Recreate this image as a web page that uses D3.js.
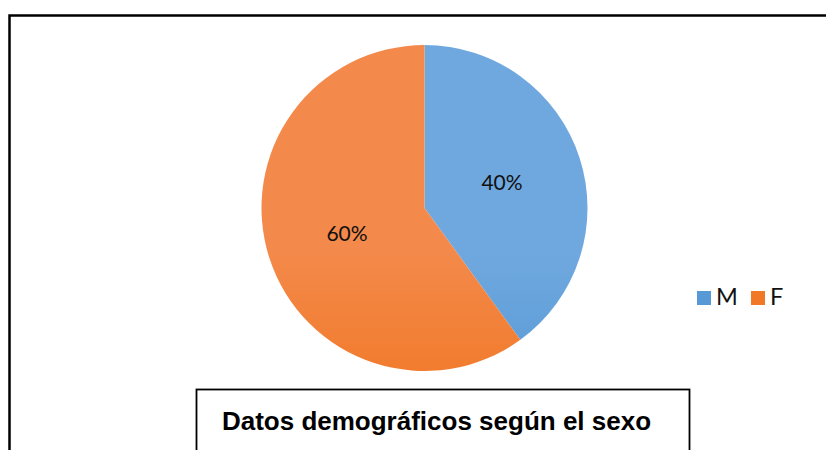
<!DOCTYPE html>
<html><head><meta charset="utf-8">
<script src="https://cdn.jsdelivr.net/npm/d3@7"></script>
<style>body{margin:0;background:#fff}svg{display:block}</style>
</head><body>
<svg id="c" width="826" height="450"></svg>
<script>
const categories = ["M", "F"];
const values = [40, 60];
const labels = ["40%", "60%"];
const title = "Datos demográficos según el sexo";

const svg = d3.select("#c");
const W = 826, H = 450;
const cx = 424.5, cy = 208, R = 163;

const defs = svg.append("defs");
const grads = [["gM", "#6fa8de", "#5698d6", "#3d84c6"], ["gF", "#f3894a", "#f17724", "#e1650f"]];
grads.forEach(([id, c1, c2, c3]) => {
  const g = defs.append("linearGradient").attr("id", id)
    .attr("gradientUnits", "userSpaceOnUse")
    .attr("x1", 0).attr("y1", cy - R).attr("x2", 0).attr("y2", cy + R);
  g.append("stop").attr("offset", "0%").attr("stop-color", c1);
  g.append("stop").attr("offset", "50%").attr("stop-color", c2);
  g.append("stop").attr("offset", "100%").attr("stop-color", c3);
});
const color = d3.scaleOrdinal().domain(categories).range(["url(#gM)", "url(#gF)"]);
const swatch = d3.scaleOrdinal().domain(categories).range(["#5799d6", "#f07827"]);

// outer border
svg.append("rect").attr("x", 9.5).attr("y", 15.5).attr("width", W).attr("height", H)
  .attr("fill", "none").attr("stroke", "#000").attr("stroke-width", 2.5);

const pie = d3.pie().sort(null).value(d => d.v);
const arcs = pie(categories.map((c, i) => ({c, v: values[i], l: labels[i]})));
const arc = d3.arc().innerRadius(0).outerRadius(R);
const labelArc = d3.arc().innerRadius(R / 2).outerRadius(R / 2);

const g = svg.append("g").attr("transform", `translate(${cx},${cy})`);
g.selectAll("path").data(arcs).join("path")
  .attr("d", arc).attr("fill", d => color(d.data.c));
g.selectAll("text").data(arcs).join("text")
  .attr("transform", d => { const [x, y] = labelArc.centroid(d); return `translate(${x},${y})`; })
  .attr("text-anchor", "middle").attr("dy", "0.36em")
  .attr("font-family", "Lato").attr("font-size", 21).attr("fill", "#111")
  .text(d => d.data.l);

// legend
const lg = svg.append("g");
const lx = [697, 751];
categories.forEach((c, i) => {
  lg.append("rect").attr("x", lx[i]).attr("y", 291).attr("width", 14).attr("height", 14).attr("fill", swatch(c));
  lg.append("text").attr("x", lx[i] + 19).attr("y", 305)
    .attr("font-family", "Lato").attr("font-size", 23.5).attr("fill", "#111").text(c);
});

// title box
svg.append("rect").attr("x", 196.5).attr("y", 389.5).attr("width", 493).attr("height", 80)
  .attr("fill", "#fff").attr("stroke", "#000").attr("stroke-width", 1.8);
svg.append("text").attr("x", 436.5).attr("y", 430).attr("text-anchor", "middle")
  .attr("font-family", "Liberation Sans, Arial").attr("font-weight", "bold").attr("font-size", 26)
  .attr("fill", "#000").text(title);
</script>
</body></html>
